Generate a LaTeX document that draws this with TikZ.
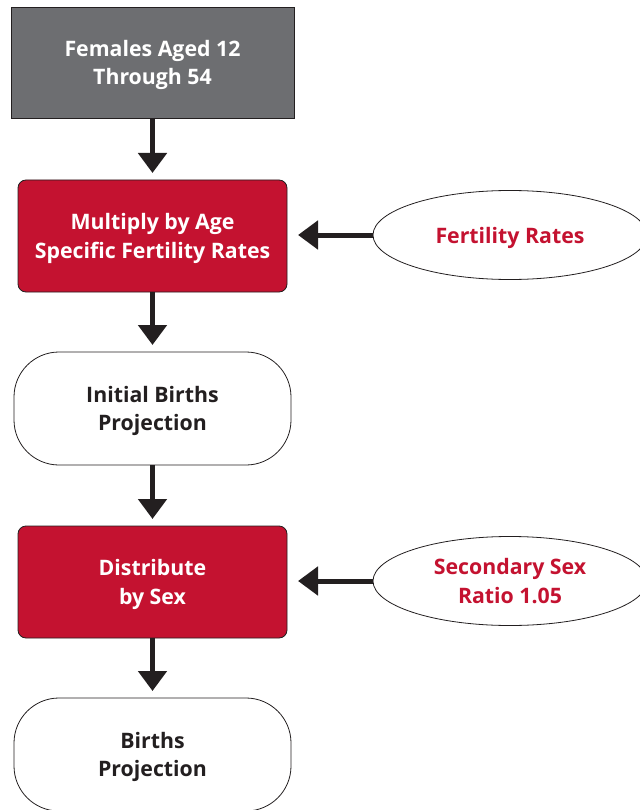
\documentclass[tikz,border=0pt]{standalone}
\usepackage{fontspec}
\setmainfont{Open Sans}
\usetikzlibrary{arrows.meta,shapes.geometric}
\definecolor{birthred}{HTML}{C41230}
\definecolor{boxgray}{HTML}{6D6E71}
\definecolor{inkblack}{HTML}{231F20}
\tikzset{
  stepbox/.style = {rectangle, draw = inkblack, line width = 0.8pt, inner sep = 0pt, outer sep = 0pt,
    align = center, text depth = 0pt, font = \fontsize{21.3}{28.5}\selectfont\bfseries},
  redbox/.style = {stepbox, fill = birthred, text = white, rounded corners = 8pt,
    minimum width = 269pt, minimum height = 112pt},
  pillbox/.style = {stepbox, fill = white, text = inkblack, rounded corners = 45pt,
    minimum width = 277pt, minimum height = 113pt},
  inputoval/.style = {ellipse, draw = inkblack, line width = 0.8pt, inner sep = 0pt, outer sep = 0pt,
    fill = white, text = birthred, align = center, text depth = 0pt,
    font = \fontsize{21.3}{28.5}\selectfont\bfseries,
    minimum width = 274pt, minimum height = 89pt},
  flow/.style = {draw = inkblack, line width = 5pt, -{Triangle[width = 28pt, length = 20pt]}}
}
\begin{document}
\begin{tikzpicture}[x = 1pt, y = -1pt]
    \useasboundingbox (0, 0) rectangle (639, 810);
    % main column
    \node[stepbox, fill = boxgray, text = white, minimum width = 283pt, minimum height = 111pt]
      (females) at (152.5, 62.5) {Females Aged 12\\Through 54};
    \node[redbox]  (multiply)   at (152.5, 236)   {Multiply by Age\\Specific Fertility Rates};
    \node[pillbox] (initial)    at (152.5, 408.5) {Initial Births\\Projection};
    \node[redbox]  (distribute) at (152.5, 582)   {Distribute\\by Sex};
    \node[pillbox] (births)     at (152.5, 754.5) {Births\\Projection};
    % inputs
    \node[inputoval] (fertility) at (510, 235) {Fertility Rates};
    \node[inputoval] (sexratio)  at (510, 581) {Secondary Sex\\Ratio 1.05};

    \draw[flow, shorten >= 7pt] (females) -- (multiply);
    \draw[flow, shorten >= 7pt] (multiply) -- (initial);
    \draw[flow, shorten >= 7pt] (initial) -- (distribute);
    \draw[flow, shorten >= 7pt] (distribute) -- (births);
    \draw[flow, shorten >= 11pt] (fertility) -- (multiply.east |- fertility);
    \draw[flow, shorten >= 11pt] (sexratio) -- (distribute.east |- sexratio);
\end{tikzpicture}
\end{document}
